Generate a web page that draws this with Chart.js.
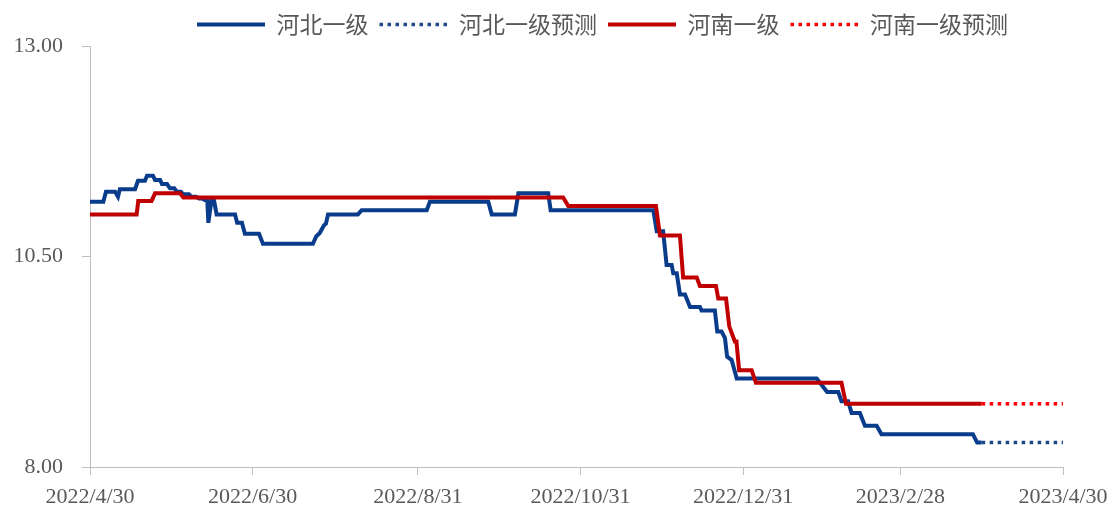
<!DOCTYPE html>
<html>
<head>
<meta charset="utf-8">
<script src="https://cdn.jsdelivr.net/npm/chart.js@4/dist/chart.umd.min.js"></script>
<style>
body{margin:0;background:#fff;}
#wrap{width:1119px;height:510px;}
</style>
</head>
<body>
<div id="wrap"><canvas id="priceChart"></canvas></div>
<script>
// x values are days counted from 2022/4/30
var tickDays = [0, 61, 123, 184, 245, 304, 365];
var tickLabels = ["2022/4/30", "2022/6/30", "2022/8/31", "2022/10/31", "2022/12/31", "2023/2/28", "2023/4/30"];
var yTicks = [8, 10.5, 13];

var seriesNames = ["河北一级", "河北一级预测", "河南一级", "河南一级预测"];

var hebeiDays = [0, 5, 6, 9.4, 10.5, 11.2, 16.9, 18, 20.6, 21.4, 23.6, 24.4, 26.3, 27, 28.9, 30, 31.6, 32.6, 34.1, 34.9,
	37.1, 38, 39.8, 40.9, 42, 43, 44, 44.4, 45.6, 46.5, 47.5, 54.4, 55.2, 57, 58.1, 63.4, 64.9, 83.6, 84.9, 86.2,
	86.9, 87.8, 88.5, 89.3, 100.5, 101.9, 126.3, 127.5, 149.4, 150.7, 159.4, 160.7, 171.9, 172.8, 211.3, 212.6, 215, 216.3, 218.2, 218.8,
	220.1, 221.3, 223.2, 225.1, 228.8, 229.4, 234.4, 235.3, 236.9, 238.2, 239, 240.7, 242.6, 272.6, 276.5, 280.7, 281.9, 284.4, 285.7, 288.8,
	290.7, 295.1, 296.9, 331.2, 332.8, 334.5];
var hebeiVals = [11.15, 11.15, 11.27, 11.27, 11.21, 11.30, 11.30, 11.40, 11.40, 11.46, 11.46, 11.41, 11.41, 11.36, 11.36, 11.31, 11.31, 11.27, 11.27, 11.24,
	11.24, 11.21, 11.21, 11.19, 11.19, 11.17, 11.17, 10.90, 11.17, 11.17, 11.00, 11.00, 10.90, 10.90, 10.77, 10.77, 10.65, 10.65, 10.74, 10.78,
	10.82, 10.87, 10.89, 11.00, 11.00, 11.05, 11.05, 11.15, 11.15, 11.00, 11.00, 11.25, 11.25, 11.05, 11.05, 10.80, 10.80, 10.40, 10.40, 10.30,
	10.30, 10.05, 10.05, 9.90, 9.90, 9.86, 9.86, 9.61, 9.61, 9.53, 9.31, 9.27, 9.05, 9.05, 8.89, 8.89, 8.78, 8.78, 8.64, 8.64,
	8.49, 8.49, 8.39, 8.39, 8.29, 8.29];

var henanDays = [0, 17.5, 18.1, 23.1, 24.4, 33.8, 35, 177.5, 179.4, 212.3, 213.8, 221.3, 222.5, 227.6, 228.8, 234.8, 235.7, 238.6, 239.8, 241.9,
	242.5, 243.5, 248.2, 249.8, 281.9, 283.6, 334.5];
var henanVals = [11.00, 11.00, 11.16, 11.16, 11.25, 11.25, 11.20, 11.20, 11.10, 11.10, 10.75, 10.75, 10.25, 10.25, 10.15, 10.15, 10.00, 10.00, 9.67, 9.49,
	9.49, 9.15, 9.15, 9.00, 9.00, 8.75, 8.75];

var hebeiFcDays = [334.5, 365];
var hebeiFcVals = [8.29, 8.29];
var henanFcDays = [334.5, 365];
var henanFcVals = [8.75, 8.75];

var toPoints = function(days, vals){
	var pts = [];
	for(var i=0; i<days.length; i++){
		pts.push({x: days[i], y: vals[i]});
	}
	return pts;
}

var axisGray = "#bfbfbf";
var textGray = "#595959";

var lineSet = function(label, pts, color, dotted, order){
	return {
		label: label,
		data: pts,
		borderColor: color,
		backgroundColor: color,
		borderWidth: dotted ? 3.5 : 4,
		borderDash: dotted ? [3.5, 4.5] : [],
		borderCapStyle: "butt",
		pointRadius: 0,
		tension: 0,
		order: order
	};
}

// legend sits a bit right of the canvas centre in the original
var legendShift = {
	id: "legendShift",
	afterLayout: function(chart){
		chart.legend.left += 43;
		chart.legend.right += 43;
	}
};

var drawPriceChart = function(){
	var ctx = document.getElementById("priceChart").getContext("2d");
	new Chart(ctx, {
		type: "line",
		data: {
			datasets: [
				lineSet(seriesNames[0], toPoints(hebeiDays, hebeiVals), "#0a3c8c", false, 4),
				lineSet(seriesNames[1], toPoints(hebeiFcDays, hebeiFcVals), "#1f4a8a", true, 3),
				lineSet(seriesNames[2], toPoints(henanDays, henanVals), "#c00000", false, 2),
				lineSet(seriesNames[3], toPoints(henanFcDays, henanFcVals), "#ff0000", true, 1)
			]
		},
		plugins: [legendShift],
		options: {
			responsive: true,
			maintainAspectRatio: false,
			devicePixelRatio: 1,
			animation: false,
			events: [],
			layout: { padding: 0 },
			plugins: {
				tooltip: { enabled: false },
				legend: {
					position: "top",
					align: "center",
					labels: {
						usePointStyle: true,
						pointStyle: "line",
						pointStyleWidth: 68,
						padding: 11,
						color: textGray,
						font: { family: "'Noto Sans CJK SC', sans-serif", size: 23 },
						sort: function(a, b){ return a.datasetIndex - b.datasetIndex; },
						generateLabels: function(chart){
							var items = Chart.defaults.plugins.legend.labels.generateLabels(chart);
							items.forEach(function(it){
								var ds = chart.data.datasets[it.datasetIndex];
								it.lineDash = ds.borderDash;
								it.lineWidth = ds.borderWidth;
								it.strokeStyle = ds.borderColor;
								it.lineCap = "butt";
							});
							return items;
						}
					}
				}
			},
			scales: {
				x: {
					type: "linear",
					min: 0,
					max: 365,
					afterBuildTicks: function(scale){
						scale.ticks = tickDays.map(function(d){ return {value: d}; });
					},
					afterFit: function(scale){
						scale.height = 43;
						scale.paddingLeft = 0;
						scale.paddingRight = 56;
					},
					ticks: {
						autoSkip: false,
						maxRotation: 0,
						padding: 9,
						color: textGray,
						font: { family: "'Liberation Serif', serif", size: 22 },
						callback: function(v, i){ return tickLabels[i]; }
					},
					grid: { drawOnChartArea: false, drawTicks: true, tickLength: 8, color: axisGray },
					border: { color: axisGray, width: 1 }
				},
				y: {
					min: 8,
					max: 13,
					afterBuildTicks: function(scale){
						scale.ticks = yTicks.map(function(v){ return {value: v}; });
					},
					afterFit: function(scale){
						scale.width = 90;
						scale.paddingTop = 46;
						scale.paddingBottom = 0;
					},
					ticks: {
						padding: 19,
						color: textGray,
						font: { family: "'Liberation Serif', serif", size: 22 },
						callback: function(v){ return Number(v).toFixed(2); }
					},
					grid: { drawOnChartArea: false, drawTicks: true, tickLength: 8, color: axisGray },
					border: { color: axisGray, width: 1 }
				}
			}
		}
	});
}

drawPriceChart();
</script>
</body>
</html>
